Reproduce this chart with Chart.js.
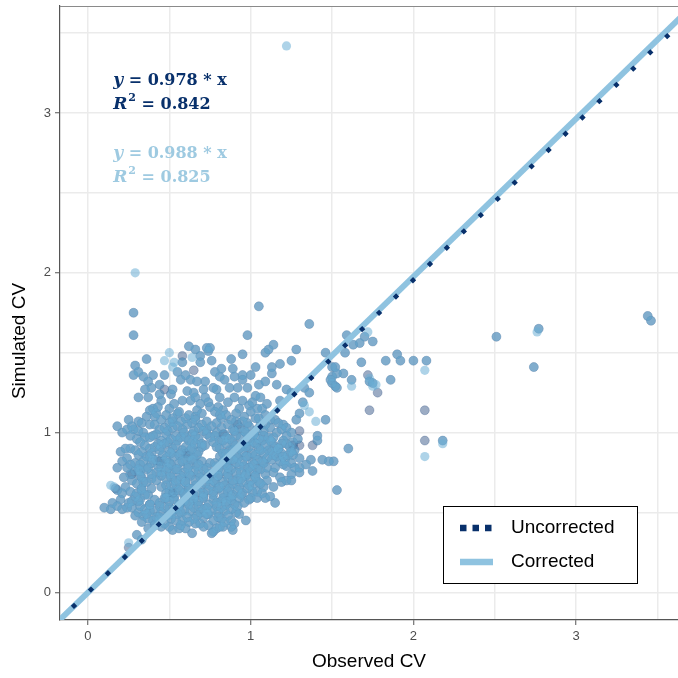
<!DOCTYPE html>
<html lang="en">
<head>
    <meta charset="UTF-8">
    <title>Observed vs Simulated CV</title>
    <script src="https://cdn.jsdelivr.net/npm/chart.js"></script>
    <style>
        body {
            margin: 0;
            background: #fff;
        }
        #wrap {
            width: 678px;
            height: 678px;
        }
    </style>
</head>
<body>
    <div id="wrap">
        <canvas id="cvChart" width="678" height="678"></canvas>
    </div>

    <script>
        // [observed, simulated] where uncorrected and corrected runs land on the same spot
        const overlapPoints = [
            [0.28,1.75],[0.28,1.61],[1.05,1.79],[1.36,1.68],[0.98,1.61],
            [0.36,1.46],[0.29,1.42],[0.28,1.36],[0.31,1.38],[0.34,1.35],[0.40,1.36],[0.37,1.32],[0.39,1.28],
            [0.35,1.27],[0.31,1.22],[0.37,1.22],[0.40,1.15],
            [0.58,1.44],[0.69,1.48],[0.73,1.53],[0.74,1.51],[0.69,1.44],
            [1.09,1.50],[1.11,1.52],[1.14,1.55],[0.95,1.49],[1.28,1.52],[1.25,1.45],[1.18,1.43],[1.46,1.50],
            [1.50,1.41],[1.13,1.41],[1.13,1.37],[1.03,1.41],[0.89,1.40],[0.82,1.40],
            [0.75,1.53],[0.76,1.45],[0.78,1.38],[0.81,1.35],[0.95,1.36],[0.95,1.33],[1.00,1.36],
            [0.87,1.28],[0.92,1.28],[0.98,1.28],[1.03,1.23],[1.06,1.22],
            [1.25,1.25],[1.33,1.28],[1.36,1.25],[1.32,1.19],
            [1.50,1.35],[1.50,1.31],[1.53,1.28],
            [0.79,1.27],[0.81,1.22],[0.86,1.19],[0.80,1.16],
            [0.95,1.20],[0.99,1.17],[1.04,1.15],[1.07,1.15],
            [0.57,1.33],[0.63,1.33],[0.67,1.32],[0.72,1.32],
            [0.61,1.26],[0.65,1.25],[0.71,1.27],[0.77,1.28],
            [0.52,1.27],[0.51,1.24],
            [0.58,1.20],[0.63,1.20],[0.69,1.18],[0.74,1.19],
            [0.45,1.20],[0.50,1.15],[0.55,1.12],
            [0.44,1.30],[0.47,1.36],[0.55,1.38],[0.60,1.36],[0.84,1.33],[0.90,1.35],[0.88,1.46],[0.66,1.52],
            [0.62,1.54],[0.43,1.16],[0.53,1.18],[0.67,1.14],[0.75,1.16],[0.83,1.14],[0.93,1.15],[1.01,1.19],
            [1.10,1.18],[1.18,1.20],[1.22,1.27],[1.16,1.30],[1.09,1.32],[1.05,1.30],[0.90,1.22],[0.72,1.22],
            [0.66,1.22],[0.44,1.24],[0.41,1.10],
            [1.68,1.44],[1.83,1.45],[1.90,1.49],[1.92,1.45],[2.00,1.45],[2.08,1.45],[1.86,1.33],[1.73,1.32],
            [1.75,1.31],[1.62,1.33],
            [1.59,1.61],[1.67,1.56],[1.63,1.55],[1.70,1.60],[1.75,1.57],[1.58,1.50],[1.52,1.41],[1.53,1.37],
            [1.57,1.37],[1.49,1.33],[1.52,1.29],
            [1.60,0.90],[1.51,0.82],[1.53,0.64],[2.18,0.95],
            [2.51,1.60],[2.77,1.65],[2.74,1.41],[3.44,1.73],[3.46,1.70],
            [1.46,1.08],[1.30,1.12],[1.41,0.98],[1.41,0.95],[1.37,0.83],[1.44,0.83],[1.48,0.82],[1.23,0.86],
            [1.27,0.78],[1.30,0.75],[1.25,0.74],
            [1.20,0.80],[1.15,0.78],[1.18,0.72],[1.22,0.70],[1.25,0.70],[1.10,0.70],[1.14,0.66],
            [1.04,0.59],[1.09,0.59],[1.12,0.60],[1.15,0.56],[0.97,0.45],
            [1.20,1.05],[1.25,1.00],[1.15,1.08],[1.28,1.08],[1.20,0.95],[1.17,0.90],[1.25,0.88],[1.12,0.95],
            [0.18,1.04],[0.21,1.00],[0.25,1.08],[0.31,1.07],[0.28,1.02],[0.38,1.14],[0.26,0.90],[0.18,0.78],
            [0.26,0.80],[0.32,0.76],[0.18,0.64],[0.21,0.62],[0.26,0.63],[0.10,0.53],[0.14,0.52],[0.21,0.52],
            [0.27,0.53],[0.32,0.58],[0.34,0.48],[0.40,0.45],[0.44,0.45],[0.52,0.39],[0.56,0.40],[0.64,0.37],
            [0.83,0.41],[0.89,0.39],[0.77,0.38],[0.33,0.33],[0.30,0.36],
            [0.42,1.12],[0.48,1.11],[0.56,1.13],[0.62,1.11],[0.70,1.12],[0.78,1.13],[0.85,1.11],[0.91,1.12],
            [1.00,1.13],[1.09,1.11],
            [0.36,1.10],[0.52,1.09],[0.66,1.10],[0.81,1.11],[0.96,1.10],[1.05,1.09],
            [0.45,1.08],[0.52,1.07],[0.60,1.09],[0.66,1.08],[0.73,1.07],[0.82,1.09],[0.88,1.08],[0.95,1.07],
            [1.03,1.09],[1.12,1.08],
            [0.33,1.06],[0.41,1.05],[0.50,1.06],[0.57,1.07],[0.64,1.06],[0.70,1.05],[0.79,1.06],[0.91,1.07],
            [0.98,1.06],[1.09,1.05],[1.17,1.06],
            [0.27,1.04],[0.38,1.05],[0.47,1.03],[0.55,1.04],[0.61,1.05],[0.68,1.03],[0.76,1.04],[0.86,1.05],
            [0.93,1.03],[0.99,1.04],[1.06,1.05],[1.22,1.03],
            [0.24,1.02],[0.31,1.01],[0.44,1.02],[0.52,1.03],[0.58,1.02],[0.65,1.01],[0.73,1.02],[0.82,1.03],
            [0.89,1.02],[0.96,1.01],[1.04,1.02],[1.12,1.03],[1.19,1.02],
            [0.34,1.00],[0.42,0.99],[0.49,1.01],[0.59,1.00],[0.64,0.99],[0.71,1.01],[0.79,1.00],[0.84,0.99],
            [0.90,1.01],[0.97,1.00],[1.02,0.99],[1.08,1.01],[1.16,1.00],
            [0.26,0.98],[0.35,0.97],[0.40,0.98],[0.48,0.99],[0.54,0.98],[0.60,0.97],[0.66,0.98],[0.73,0.99],
            [0.78,0.98],[0.85,0.97],[0.91,0.98],[1.02,0.99],[1.08,0.98],[1.14,0.97],[1.22,0.98],
            [0.30,0.96],[0.38,0.97],[0.45,0.95],[0.51,0.96],[0.57,0.97],[0.62,0.95],[0.68,0.96],[0.75,0.97],
            [0.81,0.95],[0.87,0.96],[0.94,0.97],[0.99,0.95],[1.05,0.96],[1.11,0.97],[1.29,0.96],
            [0.32,0.94],[0.43,0.93],[0.49,0.94],[0.55,0.95],[0.64,0.94],[0.70,0.93],[0.77,0.94],[0.83,0.95],
            [0.89,0.94],[0.96,0.93],[1.02,0.94],[1.07,0.95],[1.13,0.94],[1.19,0.93],[1.26,0.94],
            [0.35,0.92],[0.41,0.91],[0.47,0.93],[0.54,0.92],[0.60,0.91],[0.66,0.93],[0.72,0.92],[0.79,0.91],
            [0.85,0.93],[0.91,0.92],[0.97,0.91],[1.03,0.93],[1.09,0.92],[1.15,0.91],[1.22,0.93],
            [0.23,0.90],[0.29,0.89],[0.38,0.90],[0.45,0.91],[0.52,0.90],[0.58,0.89],[0.64,0.90],[0.70,0.91],
            [0.81,0.90],[0.87,0.89],[0.93,0.90],[0.99,0.91],[1.05,0.90],[1.11,0.89],[1.17,0.90],[1.24,0.91],
            [0.20,0.88],[0.33,0.88],[0.39,0.87],[0.44,0.89],[0.50,0.88],[0.57,0.87],[0.63,0.89],[0.68,0.88],
            [0.83,0.87],[0.89,0.89],[0.95,0.88],[1.01,0.87],[1.06,0.89],[1.13,0.88],[1.19,0.87],[1.27,0.89],
            [0.31,0.86],[0.38,0.85],[0.46,0.86],[0.51,0.87],[0.56,0.86],[0.62,0.85],[0.67,0.86],[0.85,0.87],
            [0.91,0.86],[0.97,0.85],[1.03,0.86],[1.08,0.87],[1.14,0.86],[1.20,0.85],[1.26,0.86],
            [0.24,0.84],[0.36,0.85],[0.42,0.83],[0.48,0.84],[0.53,0.85],[0.60,0.83],[0.65,0.84],[0.81,0.85],
            [0.87,0.83],[0.92,0.84],[0.98,0.85],[1.04,0.83],[1.10,0.84],[1.16,0.85],[1.21,0.83],[1.30,0.84],
            [0.21,0.82],[0.29,0.81],[0.34,0.82],[0.40,0.83],[0.47,0.82],[0.50,0.81],[0.58,0.82],[0.64,0.83],
            [0.70,0.82],[0.78,0.81],[0.83,0.82],[0.89,0.83],[0.95,0.82],[1.01,0.81],[1.07,0.82],[1.13,0.83],
            [1.18,0.82],[1.25,0.81],
            [0.32,0.80],[0.39,0.81],[0.45,0.79],[0.51,0.80],[0.56,0.81],[0.62,0.79],[0.68,0.80],[0.75,0.81],
            [0.79,0.79],[0.85,0.80],[0.91,0.81],[0.96,0.79],[1.02,0.80],[1.08,0.81],[1.34,0.80],
            [0.24,0.78],[0.31,0.77],[0.37,0.78],[0.43,0.79],[0.49,0.78],[0.55,0.77],[0.61,0.78],[0.67,0.79],
            [0.73,0.78],[0.80,0.77],[0.86,0.78],[0.93,0.79],[0.99,0.78],[1.04,0.77],[1.10,0.78],[1.22,0.79],
            [1.30,0.78],
            [0.29,0.76],[0.36,0.77],[0.42,0.75],[0.48,0.76],[0.54,0.77],[0.59,0.75],[0.65,0.76],[0.71,0.77],
            [0.77,0.75],[0.83,0.76],[0.88,0.77],[0.94,0.75],[1.00,0.76],[1.06,0.77],[1.38,0.76],
            [0.26,0.74],[0.32,0.73],[0.39,0.74],[0.45,0.75],[0.51,0.74],[0.57,0.73],[0.62,0.74],[0.68,0.75],
            [0.74,0.74],[0.80,0.73],[0.86,0.74],[0.91,0.75],[0.97,0.74],[1.03,0.73],[1.09,0.74],[1.14,0.75],
            [0.22,0.72],[0.33,0.72],[0.39,0.71],[0.45,0.73],[0.51,0.72],[0.57,0.71],[0.63,0.73],[0.69,0.72],
            [0.74,0.71],[0.80,0.73],[0.86,0.72],[0.92,0.71],[0.97,0.73],[1.03,0.72],
            [0.27,0.70],[0.34,0.69],[0.42,0.70],[0.48,0.71],[0.54,0.70],[0.60,0.69],[0.66,0.70],[0.71,0.71],
            [0.77,0.70],[0.83,0.69],[0.89,0.70],[0.94,0.71],[1.00,0.70],[1.05,0.69],
            [0.30,0.68],[0.36,0.69],[0.48,0.67],[0.54,0.68],[0.60,0.69],[0.66,0.67],[0.72,0.68],[0.78,0.69],
            [0.84,0.67],[0.89,0.68],[0.95,0.69],[1.01,0.67],[1.06,0.68],[1.19,0.69],
            [0.23,0.66],[0.33,0.65],[0.45,0.66],[0.51,0.67],[0.57,0.66],[0.63,0.65],[0.69,0.66],[0.75,0.67],
            [0.81,0.66],[0.87,0.65],[0.93,0.66],[0.99,0.67],[1.08,0.66],
            [0.33,0.64],[0.39,0.65],[0.50,0.63],[0.56,0.64],[0.62,0.65],[0.68,0.63],[0.74,0.64],[0.80,0.65],
            [0.86,0.63],[0.92,0.64],[0.98,0.65],[1.04,0.63],
            [0.30,0.62],[0.37,0.61],[0.48,0.62],[0.53,0.63],[0.59,0.62],[0.65,0.61],[0.71,0.62],[0.77,0.63],
            [0.83,0.62],[0.89,0.61],[0.95,0.62],[1.01,0.63],[1.07,0.62],
            [0.29,0.60],[0.35,0.61],[0.48,0.59],[0.53,0.60],[0.59,0.61],[0.65,0.59],[0.71,0.60],[0.77,0.61],
            [0.83,0.59],[0.88,0.60],[0.94,0.61],[1.00,0.59],
            [0.20,0.58],[0.27,0.57],[0.41,0.58],[0.47,0.59],[0.53,0.58],[0.59,0.57],[0.65,0.58],[0.71,0.59],
            [0.77,0.58],[0.82,0.57],[0.88,0.58],[0.93,0.59],[0.99,0.58],
            [0.15,0.56],[0.25,0.56],[0.31,0.57],[0.38,0.55],[0.44,0.56],[0.50,0.57],[0.56,0.55],[0.62,0.56],
            [0.68,0.57],[0.74,0.55],[0.79,0.56],[0.85,0.57],[0.90,0.55],[0.96,0.56],
            [0.18,0.54],[0.24,0.53],[0.32,0.54],[0.38,0.55],[0.44,0.54],[0.50,0.53],[0.56,0.54],[0.62,0.55],
            [0.68,0.54],[0.73,0.53],[0.79,0.54],[0.85,0.55],[0.92,0.54],
            [0.35,0.52],[0.41,0.51],[0.47,0.53],[0.53,0.52],[0.59,0.51],[0.65,0.53],[0.71,0.52],[0.76,0.51],
            [0.82,0.53],[0.88,0.52],
            [0.31,0.50],[0.38,0.51],[0.45,0.50],[0.51,0.49],[0.57,0.50],[0.63,0.51],[0.69,0.50],[0.74,0.49],
            [0.80,0.50],[0.84,0.51],[0.91,0.50],
            [0.29,0.48],[0.36,0.49],[0.42,0.47],[0.49,0.48],[0.55,0.49],[0.61,0.47],[0.67,0.48],[0.73,0.49],
            [0.80,0.47],[0.86,0.48],[0.93,0.49],
            [0.37,0.46],[0.44,0.47],[0.51,0.46],[0.58,0.45],[0.65,0.46],[0.71,0.47],[0.82,0.46],[0.88,0.45],
            [0.33,0.44],[0.47,0.43],[0.54,0.45],[0.62,0.44],[0.69,0.43],[0.77,0.45],[0.84,0.44],[0.90,0.43],
            [0.41,0.42],[0.50,0.41],[0.57,0.42],[0.66,0.43],[0.74,0.42],[0.81,0.41],
            [0.37,0.40],[0.45,0.41],[0.60,0.40],[0.71,0.41],[0.79,0.40],[0.88,0.41],
            [0.76,0.37]
        ];

        // points only seen for one of the two runs
        const uncorrectedOnly = [
            [1.30,1.01],[1.26,0.92],[1.30,0.92],[1.38,0.92],[1.72,1.36],[1.78,1.25],[1.73,1.14],[2.07,1.14],
            [2.07,0.95],[0.58,1.48],[0.47,1.27],[0.65,1.39],[0.25,0.28],[0.17,0.65],[0.44,0.82],[0.27,0.74],
            [0.52,0.62],[0.60,0.87],[0.92,1.05],[0.83,0.99]
        ];
        const correctedOnly = [
            [1.22,3.42],[0.29,2.00],[2.07,1.39],[2.07,0.85],[2.18,0.93],[1.72,1.63],[1.62,1.29],[0.50,1.50],
            [0.47,1.45],[0.53,1.44],[0.52,1.41],[0.64,1.47],[1.36,1.13],[1.33,1.17],[0.25,0.31],[0.16,0.66],
            [0.14,0.67],[1.75,1.29],[1.77,1.30],[1.40,1.07],[1.73,1.34],[2.76,1.63]
        ];

        // fitted lines through the origin
        const fitX = [-0.2, 3.7];
        const uncorrectedFitY = [-0.196, 3.619];
        const correctedFitY = [-0.198, 3.656];

        const uncorrectedLabel = ['y = 0.978 * x', 'R2 = 0.842'];
        const correctedLabel = ['y = 0.988 * x', 'R2 = 0.825'];

        const xRange = [-0.172, 3.626];
        const yRange = [-0.173, 3.67];

        const NAVY = '#08306b';
        const LINE_LIGHT = '#8fc3e0';
        const SANS = '"Liberation Sans", Arial, sans-serif';
        const SERIF = '"DejaVu Serif", serif';

        const toXY = arr => arr.map(p => ({ x: p[0], y: p[1] }));
        const fitLine = ys => fitX.map((x, i) => ({ x: x, y: ys[i] }));

        // equations, axis titles, top border and the boxed legend
        const extrasPlugin = {
            id: 'extras',
            afterDraw(chart) {
                const ctx = chart.ctx;
                const area = chart.chartArea;
                const sx = chart.scales.x, sy = chart.scales.y;
                ctx.save();

                // top panel border
                ctx.strokeStyle = '#8a8a8a';
                ctx.lineWidth = 1;
                ctx.beginPath();
                ctx.moveTo(area.left, area.top + 0.5);
                ctx.lineTo(area.right, area.top + 0.5);
                ctx.stroke();

                // equations
                function eqLine(text, x, y, color) {
                    ctx.fillStyle = color;
                    ctx.textBaseline = 'alphabetic';
                    ctx.textAlign = 'left';
                    const first = text.charAt(0);
                    let rest = text.slice(1);
                    ctx.font = 'italic bold 17px ' + SERIF;
                    ctx.fillText(first, x, y);
                    let cx = x + ctx.measureText(first).width;
                    if (rest.charAt(0) === '2') {
                        ctx.font = 'bold 11px ' + SERIF;
                        ctx.fillText('2', cx + 1, y - 8);
                        cx += ctx.measureText('2').width + 1;
                        rest = rest.slice(1);
                    }
                    ctx.font = 'bold 16px ' + SERIF;
                    ctx.fillText(rest, cx, y);
                }
                const ex = sx.getPixelForValue(0.155);
                eqLine(uncorrectedLabel[0], ex, sy.getPixelForValue(3.175), NAVY);
                eqLine(uncorrectedLabel[1], ex, sy.getPixelForValue(3.025), NAVY);
                eqLine(correctedLabel[0], ex, sy.getPixelForValue(2.72), '#9ecae1');
                eqLine(correctedLabel[1], ex, sy.getPixelForValue(2.57), '#9ecae1');

                // axis titles
                ctx.fillStyle = '#000';
                ctx.font = '19px ' + SANS;
                ctx.textAlign = 'center';
                ctx.textBaseline = 'middle';
                ctx.fillText('Observed CV', (area.left + area.right) / 2, area.bottom + 42);
                ctx.save();
                ctx.translate(20, area.top + 335);
                ctx.rotate(-Math.PI / 2);
                ctx.fillText('Simulated CV', 0, 0);
                ctx.restore();

                // legend box
                const bx = area.right - 235, by = area.bottom - 114, bw = 194, bh = 77;
                ctx.fillStyle = '#fff';
                ctx.fillRect(bx, by, bw, bh);
                ctx.strokeStyle = '#000';
                ctx.lineWidth = 1;
                ctx.strokeRect(bx + 0.5, by + 0.5, bw, bh);

                ctx.lineWidth = 6.5;
                ctx.lineCap = 'butt';
                ctx.strokeStyle = NAVY;
                ctx.setLineDash([6.5, 6]);
                ctx.beginPath();
                ctx.moveTo(bx + 17, by + 22);
                ctx.lineTo(bx + 50, by + 22);
                ctx.stroke();
                ctx.setLineDash([]);
                ctx.strokeStyle = LINE_LIGHT;
                ctx.beginPath();
                ctx.moveTo(bx + 17, by + 56);
                ctx.lineTo(bx + 50, by + 56);
                ctx.stroke();

                ctx.fillStyle = '#000';
                ctx.font = '19px ' + SANS;
                ctx.textAlign = 'left';
                ctx.textBaseline = 'middle';
                ctx.fillText('Uncorrected', bx + 68, by + 22);
                ctx.fillText('Corrected', bx + 68, by + 56);
                ctx.restore();
            }
        };

        const isMajor = v => Math.abs(v - Math.round(v)) < 1e-6;

        function axisOptions(range, fitFn) {
            return {
                type: 'linear',
                min: range[0],
                max: range[1],
                ticks: {
                    stepSize: 0.5,
                    includeBounds: false,
                    autoSkip: false,
                    maxRotation: 0,
                    color: '#4d4d4d',
                    font: { family: SANS, size: 13 },
                    padding: 4,
                    callback: v => isMajor(v) ? String(Math.round(v)) : ''
                },
                grid: {
                    color: '#ebebeb',
                    lineWidth: 1.5,
                    tickLength: 5,
                    tickColor: ctx => (ctx.tick && isMajor(ctx.tick.value)) ? '#555' : 'rgba(0,0,0,0)',
                    tickWidth: 1
                },
                border: { color: '#555', width: 1.2 },
                afterFit: fitFn
            };
        }

        new Chart(document.getElementById('cvChart'), {
            type: 'scatter',
            data: {
                datasets: [
                    {
                        label: 'Uncorrected fit',
                        data: fitLine(uncorrectedFitY),
                        showLine: true,
                        borderColor: NAVY,
                        borderWidth: 4.5,
                        borderDash: [4.5, 19],
                        pointRadius: 0,
                        clip: 0,
                        order: 0
                    },
                    {
                        label: 'Corrected fit',
                        data: fitLine(correctedFitY),
                        showLine: true,
                        borderColor: LINE_LIGHT,
                        borderWidth: 6,
                        pointRadius: 0,
                        clip: 0,
                        order: 1
                    },
                    {
                        label: 'Corrected',
                        data: toXY(overlapPoints.concat(correctedOnly)),
                        backgroundColor: 'rgba(107,174,214,0.55)',
                        borderColor: 'rgba(107,174,214,0.55)',
                        borderWidth: 0,
                        pointRadius: 4.6,
                        order: 2
                    },
                    {
                        label: 'Uncorrected',
                        data: toXY(overlapPoints.concat(uncorrectedOnly)),
                        backgroundColor: 'rgba(8,48,107,0.4)',
                        borderColor: 'rgba(8,48,107,0.45)',
                        borderWidth: 0.5,
                        pointRadius: 4.5,
                        order: 3
                    }
                ]
            },
            options: {
                responsive: false,
                animation: false,
                layout: {
                    autoPadding: false,
                    padding: { top: 6, right: 0, left: 0, bottom: 0 }
                },
                plugins: {
                    legend: { display: false },
                    tooltip: { enabled: false }
                },
                scales: {
                    x: axisOptions(xRange, s => {
                        s.height = 58;
                        s.paddingLeft = 0;
                        s.paddingRight = 0;
                    }),
                    y: axisOptions(yRange, s => {
                        s.width = 60;
                        s.paddingTop = 0;
                        s.paddingBottom = 0;
                    })
                }
            },
            plugins: [extrasPlugin]
        });
    </script>
</body>
</html>
